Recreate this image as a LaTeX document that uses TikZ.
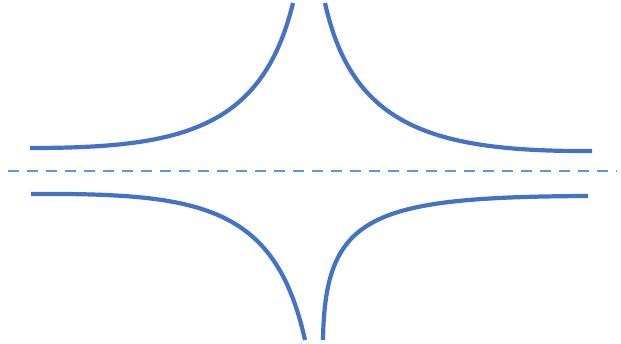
\documentclass[tikz,border=0pt]{standalone}
\begin{document}
\begin{tikzpicture}[x=1pt,y=-1pt,
  curve/.style={draw=curveblue,line width=4.2pt},
  axis/.style={draw=axisblue,line width=2.8pt,dash pattern=on 11pt off 8pt}]
\definecolor{curveblue}{RGB}{68,114,196}
\definecolor{axisblue}{RGB}{91,155,213}
\useasboundingbox[fill=white] (0,0) rectangle (621,344);
\coordinate (ulA) at (30,148);
\coordinate (ulB) at (293,3);
\coordinate (urA) at (325,3);
\coordinate (urB) at (592,151);
\coordinate (llA) at (31,194);
\coordinate (llB) at (305,340);
\coordinate (lrA) at (323,340);
\coordinate (lrB) at (588,196);
\coordinate (axL) at (8,171);
\coordinate (axR) at (617,171);
\draw[axis] (axL) -- (axR);
\draw[curve] (ulA) .. controls (180,148) and (262,130) .. (ulB);
\draw[curve] (urA) .. controls (352,125) and (430,152) .. (urB);
\draw[curve] (llA) .. controls (200,193) and (275,205) .. (llB);
\draw[curve] (lrA) .. controls (325,215) and (370,197) .. (lrB);
\end{tikzpicture}
\end{document}
